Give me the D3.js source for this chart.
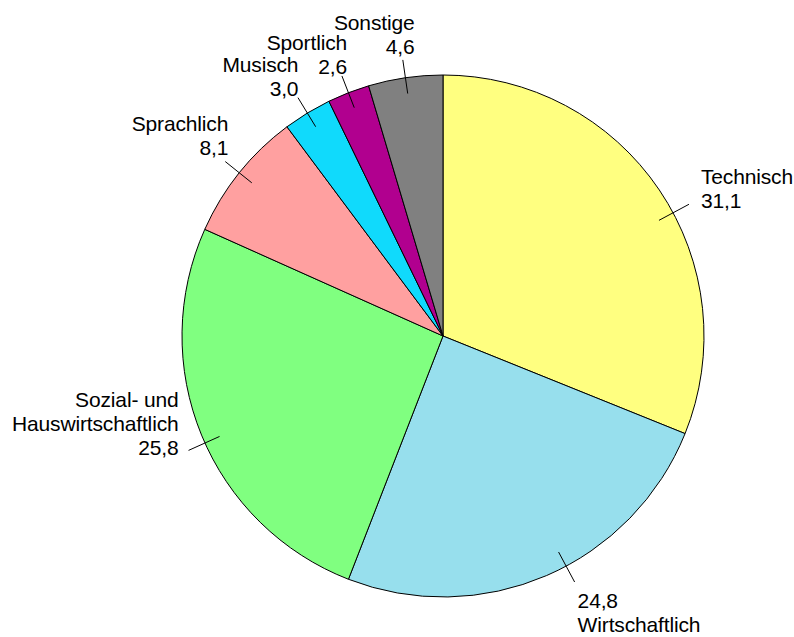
<!DOCTYPE html>
<html>
<head>
<meta charset="utf-8">
<script src="https://cdn.jsdelivr.net/npm/d3@7"></script>
<style>
  html, body { margin: 0; padding: 0; background: #fff; }
  svg { display: block; }
  text { font-family: "Liberation Sans", Arial, sans-serif; font-size: 21px; letter-spacing: -0.15px; fill: #000; }
</style>
</head>
<body>
<svg id="chart" width="794" height="637"></svg>
<script>
const categories = ["Technisch", "Wirtschaftlich", "Sozial- und\nHauswirtschaftlich", "Sprachlich", "Musisch", "Sportlich", "Sonstige"];
const values = [31.1, 24.8, 25.8, 8.1, 3.0, 2.6, 4.6];
const colors = ["#FFFF80", "#97DFED", "#80FF80", "#FFA0A0", "#10DAFC", "#B1008F", "#808080"];

const W = 794, H = 637;
const cx = 443, cy = 336, R = 261;
const svg = d3.select("#chart");
const g = svg.append("g");

const data = categories.map((c, i) => ({ name: c, value: values[i], color: colors[i] }));
const pie = d3.pie().sort(null).value(d => d.value).startAngle(0).endAngle(2 * Math.PI);
const arcs = pie(data);
const arc = d3.arc().innerRadius(0).outerRadius(R);

g.append("g").attr("transform", `translate(${cx},${cy})`)
  .selectAll("path.slice").data(arcs).enter().append("path")
  .attr("class", "slice")
  .attr("d", arc)
  .attr("fill", d => d.data.color)
  .attr("stroke", "#000")
  .attr("stroke-width", 1)
  .attr("stroke-linejoin", "round");

const fmt = v => d3.format(".1f")(v).replace(".", ",");
const rIn = R - 16, rOut = R + 18;
const lh = 24;
const pt = (r, a) => [cx + r * Math.sin(a), cy - r * Math.cos(a)];

function measure(lines) {
  const t = svg.append("text");
  const w = d3.max(lines, ln => { t.text(ln); return t.node().getComputedTextLength(); });
  t.remove();
  return w;
}

arcs.forEach(d => {
  const mid = (d.startAngle + d.endAngle) / 2;
  const s = Math.sin(mid), c = Math.cos(mid);
  const nameLines = d.data.name.split("\n");
  const valStr = fmt(d.data.value);
  let lines, anchor, x, lastBase, a = mid;

  if (c < -0.8) {
    // bottom label: value first, pushed to the bottom edge
    lines = [valStr].concat(nameLines);
    lastBase = H - 5;
    const firstBase = lastBase - lh * (lines.length - 1);
    const ey = firstBase - 26;
    const ca = Math.max(-1, Math.min(1, -(ey - cy) / rOut));
    a = mid < Math.PI ? Math.acos(ca) : 2 * Math.PI - Math.acos(ca);
    anchor = "start";
    x = pt(rOut, a)[0] + 3;
  } else if (s > 0.8) {
    lines = nameLines.concat([valStr]);
    const w = measure(lines);
    const xLeft = W - 1 - w;
    const ex = xLeft - 12;
    const sa = Math.max(-1, Math.min(1, (ex - cx) / rOut));
    a = mid < Math.PI / 2 ? Math.asin(sa) : Math.PI - Math.asin(sa);
    lastBase = pt(rOut, a)[1] + 4;
    anchor = "start"; x = xLeft;
  } else if (s < -0.8) {
    lines = nameLines.concat([valStr]);
    const w = measure(lines);
    const xRight = 12 + w;
    const ex = xRight + 10;
    const sa = Math.max(-1, Math.min(1, -(ex - cx) / rOut));
    a = mid < 1.5 * Math.PI ? Math.PI + Math.asin(sa) : 2 * Math.PI - Math.asin(sa);
    lastBase = pt(rOut, a)[1] + 5;
    anchor = "end"; x = xRight;
  } else {
    lines = nameLines.concat([valStr]);
    const e = pt(rOut, a);
    const as = Math.abs(s);
    lastBase = e[1] - (as > 0.6 ? 7 : as < 0.25 ? 6 : 2);
    if (s > 0) { anchor = "start"; x = e[0] + 10; }
    else { anchor = "end"; x = e[0] + (as > 0.6 ? 3 : 16 - 30 * as); }
  }

  const p1 = pt(rIn, a), p2 = pt(rOut, a);
  g.append("line")
    .attr("x1", p1[0]).attr("y1", p1[1])
    .attr("x2", p2[0]).attr("y2", p2[1])
    .attr("stroke", "#000").attr("stroke-width", 1);

  const firstBase = lastBase - lh * (lines.length - 1);
  const t = g.append("text").attr("text-anchor", anchor);
  lines.forEach((ln, i) => {
    t.append("tspan").attr("x", x).attr("y", firstBase + i * lh).text(ln);
  });
});
</script>
</body>
</html>
